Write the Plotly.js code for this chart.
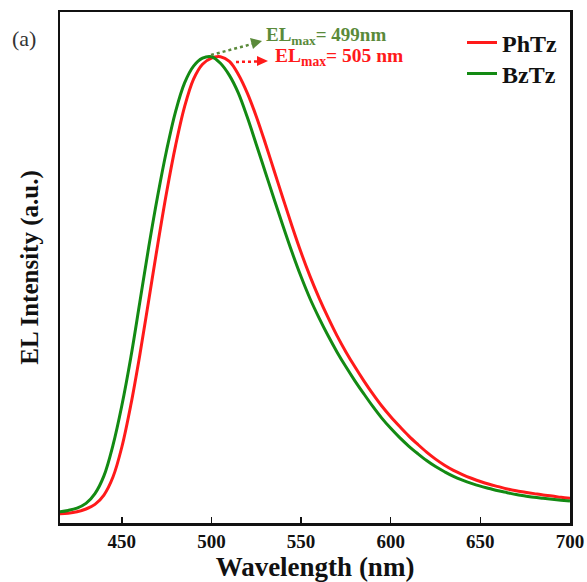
<!DOCTYPE html>
<html>
<head>
<meta charset="utf-8">
<script src="https://cdn.plot.ly/plotly-3.0.1.min.js"></script>
<style>html,body{margin:0;padding:0;background:#fff;}#chart{width:587px;height:582px;}</style>
</head>
<body>
<div id="chart"></div>
<script>
const wavelength = [415,420,425,430,435,440,445,450,455,460,465,470,475,480,485,490,495,500,505,510,515,520,525,530,535,540,545,550,555,560,565,570,575,580,585,590,595,600,605,610,615,620,625,630,635,640,645,650,655,660,665,670,675,680,685,690,695,700];
const phtz = [0.020,0.021,0.024,0.030,0.040,0.060,0.098,0.163,0.253,0.360,0.478,0.597,0.710,0.810,0.893,0.952,0.984,0.997,1.000,0.990,0.962,0.922,0.872,0.815,0.755,0.695,0.636,0.580,0.529,0.483,0.441,0.402,0.367,0.335,0.305,0.277,0.251,0.228,0.207,0.187,0.169,0.152,0.137,0.124,0.113,0.104,0.096,0.089,0.083,0.078,0.073,0.069,0.066,0.063,0.060,0.058,0.055,0.053];
const bztz = [0.024,0.027,0.032,0.042,0.063,0.101,0.166,0.252,0.355,0.473,0.592,0.702,0.800,0.883,0.944,0.980,0.997,1.000,0.986,0.960,0.922,0.870,0.812,0.753,0.694,0.636,0.580,0.528,0.481,0.440,0.402,0.367,0.335,0.305,0.277,0.250,0.225,0.203,0.183,0.165,0.149,0.134,0.121,0.110,0.100,0.092,0.085,0.079,0.074,0.069,0.065,0.061,0.058,0.055,0.053,0.051,0.049,0.047];
const seriesNames = ['PhTz','BzTz'];
const xTicks = [450,500,550,600,650,700];
const peakLabels = ['EL<sub>max</sub>= 499nm','EL<sub>max</sub>= 505 nm'];

const serif = 'Liberation Serif, Times New Roman, serif';
const red = '#ff1a1a', green = '#138a13', olive = '#5a8a3a';

const traces = [
  {x: wavelength, y: phtz, name: '<b>'+seriesNames[0]+'</b>', type:'scatter', mode:'lines', line:{color:red, width:3, shape:'spline', smoothing:1}, legend:'legend'},
  {x: wavelength, y: bztz, name: '<b>'+seriesNames[1]+'</b>', type:'scatter', mode:'lines', line:{color:green, width:3, shape:'spline', smoothing:1}, legend:'legend2'}
];

// paper coordinate helpers for decorations (plot area 60..570 x, 12..523 y)
const px = v => (v-60)/510, py = v => (523-v)/511;
const legendStyle = {xanchor:'left', yanchor:'middle', bgcolor:'rgba(0,0,0,0)', font:{family:serif, size:24, color:'#111'}};

const layout = {
  width:587, height:582,
  margin:{l:60, r:17, t:12, b:59},
  paper_bgcolor:'#fff', plot_bgcolor:'#fff',
  font:{family:serif, color:'#000'},
  showlegend:true,
  legend:Object.assign({x:px(462), y:py(43)}, legendStyle),
  legend2:Object.assign({x:px(462), y:py(74)}, legendStyle),
  xaxis:{range:[415.5,700], tickvals:xTicks, ticktext:xTicks.map(String), ticks:'inside', ticklen:6, tickwidth:1.5, tickcolor:'#111',
    showline:true, linewidth:2.5, linecolor:'#111', mirror:true, showgrid:false, zeroline:false,
    tickfont:{family:serif, size:19, color:'#111', weight:'bold'},
    title:{text:'<b>Wavelength (nm)</b>', font:{family:serif, size:27, color:'#111'}, standoff:4}},
  yaxis:{range:[0,1.096], showticklabels:false, ticks:'', showline:true, linewidth:2.5, linecolor:'#111', mirror:true, showgrid:false, zeroline:false,
    title:{text:'<b>EL Intensity (a.u.)</b>', font:{family:serif, size:25, color:'#111'}, standoff:12}},
  shapes:[
    {type:'line', xref:'paper', yref:'paper', x0:px(211), y0:py(55), x1:px(252), y1:py(44), line:{color:olive, width:2.5, dash:'dot'}},
    {type:'path', xref:'paper', yref:'paper', path:'M '+px(262)+' '+py(41)+' L '+px(250)+' '+py(38)+' L '+px(253)+' '+py(49)+' Z', fillcolor:olive, line:{width:0}},
    {type:'line', xref:'paper', yref:'paper', x0:px(236), y0:py(62), x1:px(258), y1:py(61.5), line:{color:red, width:2.5, dash:'dot'}},
    {type:'path', xref:'paper', yref:'paper', path:'M '+px(268)+' '+py(61)+' L '+px(257)+' '+py(56)+' L '+px(257)+' '+py(66)+' Z', fillcolor:red, line:{width:0}}
  ],
  annotations:[
    {xref:'paper', yref:'paper', x:px(264), y:py(36), xanchor:'left', yanchor:'middle', showarrow:false, text:'<b>'+peakLabels[0]+'</b>', font:{family:serif, size:19, color:olive}},
    {xref:'paper', yref:'paper', x:px(273), y:py(57), xanchor:'left', yanchor:'middle', showarrow:false, text:'<b>'+peakLabels[1]+'</b>', font:{family:serif, size:19.5, color:red}},
    {xref:'paper', yref:'paper', x:px(10), y:py(38), xanchor:'left', yanchor:'middle', showarrow:false, text:'(a)', font:{family:serif, size:22, color:'#333'}}
  ]
};

Plotly.newPlot('chart', traces, layout, {displayModeBar:false, staticPlot:true});
</script>
</body>
</html>
